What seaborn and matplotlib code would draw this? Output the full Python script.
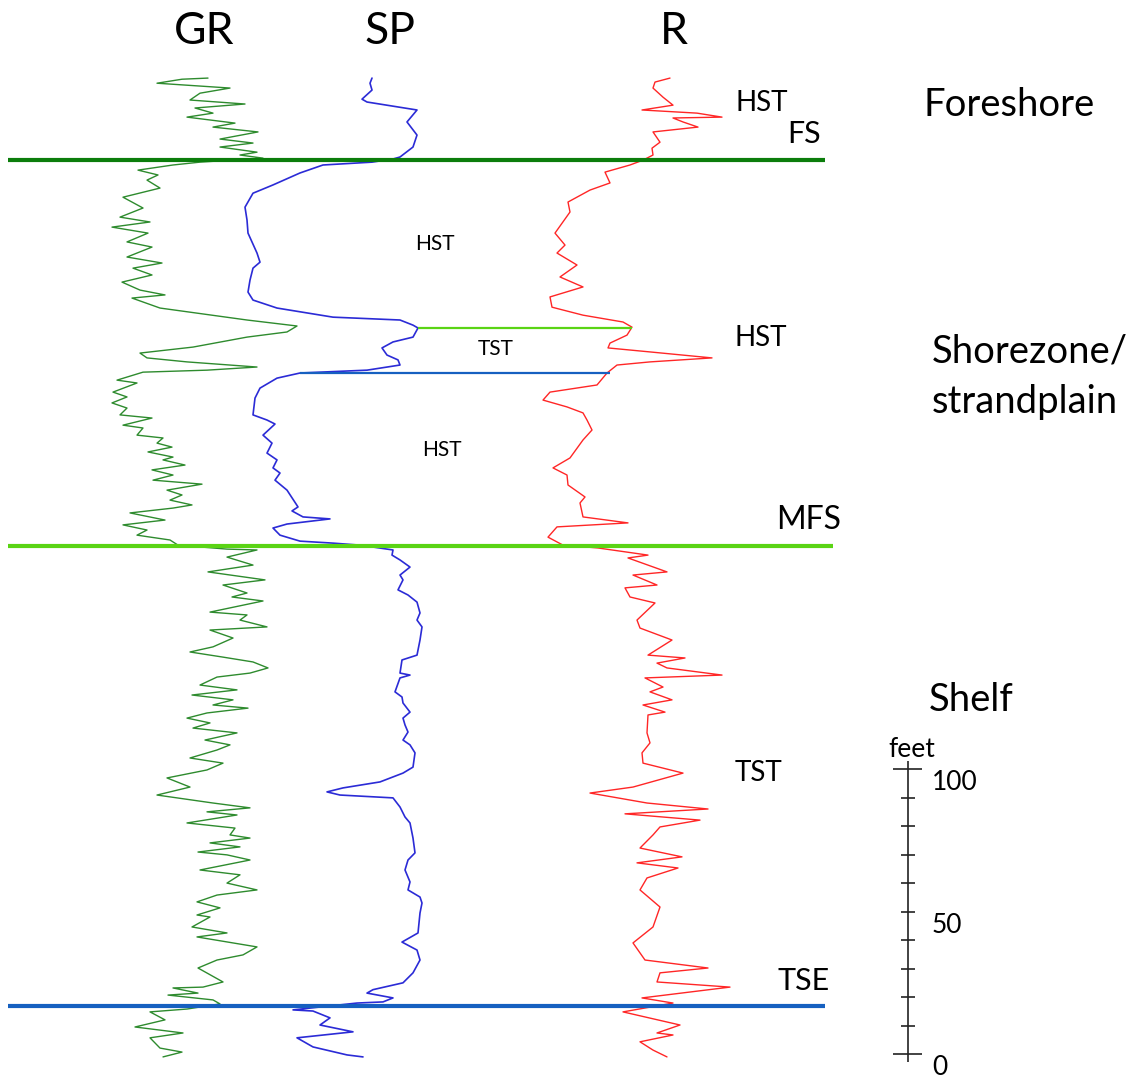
import matplotlib
matplotlib.use("Agg")
import matplotlib.pyplot as plt
import seaborn as sns

# ---------------------------------------------------------------------------
# Well-log readings (depth in feet below top of logged interval)
# ---------------------------------------------------------------------------
gr_depth = [0.0, 0.4, 1.8, 3.5, 5.3, 7.7, 9.1, 10.5, 12.3, 13.7, 15.8, 17.2, 18.9, 21.4,
            22.8, 24.2, 26.0, 27.0, 28.1, 29.5, 30.5, 32.3, 34.0, 35.8, 38.6, 41.8, 45.6,
            48.8, 50.5, 52.3, 54.4, 57.5, 59.3, 62.8, 64.9, 66.7, 69.1, 71.6, 74.4, 76.1,
            77.2, 80.7, 84.9, 87.0, 89.1, 90.9, 94.4, 96.5, 98.2, 99.6, 101.4, 102.5, 103.2,
            106.0, 107.0, 110.2, 111.9, 114.0, 115.8, 118.2, 119.3, 121.8, 122.8, 125.3,
            126.3, 128.1, 129.5, 131.2, 133.0, 134.0, 135.8, 137.5, 139.3, 141.1, 142.5,
            144.6, 146.3, 148.1, 149.8, 150.9, 152.6, 155.1, 156.8, 158.6, 160.4, 162.1,
            163.9, 165.3, 165.6, 168.1, 170.9, 173.3, 176.1, 177.9, 180.7, 182.1, 183.5,
            187.4, 188.4, 190.2, 192.6, 193.7, 196.5, 199.6, 201.4, 203.2, 204.9, 207.0,
            208.8, 210.2, 213.0, 214.7, 216.5, 218.2, 220.0, 221.1, 222.8, 224.6, 226.3,
            228.1, 229.8, 232.3, 234.0, 235.8, 238.6, 240.4, 242.8, 245.6, 248.8, 251.6,
            254.4, 256.1, 257.5, 258.6, 261.4, 263.2, 265.6, 266.7, 268.4, 269.8, 271.6,
            272.6, 274.4, 277.9, 279.6, 282.5, 284.9, 286.7, 289.1, 291.2, 293.7, 294.4,
            297.9, 300.0, 301.4, 304.9, 307.7, 309.5, 312.3, 317.2, 319.0, 319.3, 321.1,
            321.8, 323.5, 324.9, 326.7, 327.7, 330.5, 333.0, 335.1, 336.8, 340.4, 341.8,
            343.5]
gr_api = [108, 82, 57, 130, 100, 90, 145, 95, 113, 87, 135, 113, 158, 120,
          153, 120, 157, 140, 163, 100, 73, 38, 58, 47, 60, 23, 43,
          20, 50, 12, 48, 27, 52, 27, 62, 33, 52, 22, 40, 65,
          32, 60, 147, 197, 187, 147, 93, 40, 47, 87, 157, 107, 43,
          17, 37, 13, 27, 12, 27, 20, 52, 23, 43, 37,
          63, 57, 72, 48, 73, 63, 85, 52, 73, 53, 102,
          67, 82, 70, 92, 73, 30, 65, 23, 47, 37, 70,
          78, 127, 157, 127, 153, 108, 165, 123, 147, 132, 163,
          110, 147, 140, 167, 110, 133, 113, 90, 123, 153, 168,
          150, 117, 100, 137, 92, 133, 113, 148, 107, 87, 110,
          93, 137, 105, 130, 117, 90, 123, 107, 67, 90, 57,
          113, 150, 107, 137, 87, 135, 130, 150, 110, 140, 98,
          127, 150, 100, 140, 127, 157, 117, 97, 120, 97, 110,
          92, 127, 97, 157, 143, 117, 98, 123, 103, 73, 98,
          68, 113, 120, 87, 50, 65, 35, 83, 50, 60, 82,
          63]

sp_depth = [0.0, 1.8, 4.2, 7.4, 8.4, 11.2, 15.4, 20.0, 24.2, 27.7, 28.4,
            29.5, 30.5, 33.3, 37.5, 40.4, 45.3, 49.8, 54.4, 61.4, 64.6, 66.7, 70.9,
            75.1, 77.9, 80.7, 83.9, 84.9, 86.7, 87.7, 90.9, 92.6, 94.7, 97.2, 98.9,
            100.7, 102.5, 103.5, 105.3, 108.8, 112.3, 118.2, 120.0, 121.4, 125.3, 128.1,
            131.6, 134.0, 136.8, 138.6, 141.1, 144.6, 150.5, 151.9, 154.0, 154.7, 156.5,
            157.9, 160.4, 162.5, 163.2, 163.9,
            165.6, 167.4, 169.1, 171.6, 174.4, 176.1, 179.6, 181.4, 183.9, 187.7, 190.2,
            192.6, 197.2, 202.5, 204.2, 208.8, 209.5, 210.5, 215.4, 217.2, 219.3, 222.5,
            224.6, 227.0, 229.5, 232.3, 234.0, 236.8, 241.8, 243.9, 247.0, 249.1, 250.5,
            251.6, 252.6, 255.8, 259.3, 261.4, 266.7, 271.9, 274.4, 277.9, 282.1, 284.9,
            287.4, 289.5, 293.0, 300.0, 303.2, 306.0, 309.5, 314.0, 317.5, 319.9, 321.1,
            322.8, 324.2, 324.6,
            327.0, 327.4, 329.8, 332.3, 334.7, 336.8, 340.0, 342.8, 343.5]
sp_mv = [-48, -50, -48, -58, -53, -3, -13, -3, -7, -20, -27,
         -48, -97, -120, -147, -167, -175, -173, -172, -163, -160, -167, -170,
         -172, -167, -143, -87, -20, -7, -2, -7, -27, -38, -33, -22,
         -20, -53, -120, -143, -160, -165, -167, -153, -145, -157, -148,
         -153, -143, -147, -140, -145, -133, -122, -128, -117, -90, -133,
         -147, -140, -120, -87, -60,
         -27, -28, -20, -10, -20, -17, -22, -12, -3, 0, -3,
         2, 0, -3, -18, -20, -10, -20, -25, -18, -17, -10,
         -17, -15, -12, -17, -10, -5, -7, -17, -40, -77, -93,
         -80, -27, -20, -15, -10, -7, -5, -12, -15, -10, -12,
         0, 2, 0, -2, -18, -3, 0, -7, -17, -47, -53,
         -27, -37, -63,
         -127, -107, -90, -100, -67, -123, -107, -73, -57]

r_depth = [0.0, 1.4, 3.5, 6.7, 9.5, 11.2, 12.3, 13.7, 14.0, 15.4, 17.2, 18.9, 22.5,
           24.6, 27.0, 28.8, 30.5, 33.0, 36.8, 39.3, 43.5, 47.0, 54.4, 58.6, 61.4,
           65.6, 69.8, 73.3, 76.8, 80.4, 83.2, 85.6, 87.4, 90.2, 93.0, 94.7, 96.1,
           98.2, 99.6, 100.7, 103.5, 107.7, 110.2, 113.0, 115.4, 117.5, 120.0, 123.5,
           127.0, 133.3, 136.8, 139.3, 142.8, 147.0, 149.1, 154.0, 156.1, 157.5, 161.1,
           163.9, 164.9, 167.4, 168.4, 173.3, 174.4, 177.9, 178.9, 182.1, 184.2, 190.2,
           193.0, 197.2, 202.5, 203.5, 205.3, 207.0, 209.5, 210.5, 213.7, 215.4, 218.2,
           220.0, 222.5, 223.5, 229.8, 233.3, 236.8, 240.4, 243.9, 248.8, 250.9, 254.4,
           256.5, 258.2, 260.4, 262.8, 265.6, 270.2, 273.3, 275.4, 277.2, 280.7, 284.9,
           290.9, 297.9, 303.5, 309.5, 312.3, 314.0, 317.2, 319.0, 322.8, 324.6, 327.7,
           332.3, 335.1, 335.8, 338.2, 341.1, 343.5]
r_ohmm = [14.0, 12.5, 12.3, 13.3, 14.3, 11.2, 16.7, 19.2, 14.3, 15.3, 16.8, 12.3, 13.0,
          12.2, 12.3, 11.3, 10.0, 7.5, 8.0, 6.0, 3.8, 4.0, 2.5, 3.5, 2.7,
          4.7, 3.0, 5.3, 2.0, 2.2, 5.3, 9.3, 10.2, 9.7, 8.0, 7.8, 12.0,
          18.2, 12.0, 8.7, 7.7, 6.7, 2.0, 1.3, 3.7, 5.3, 5.7, 6.2,
          5.3, 4.0, 2.3, 3.7, 3.8, 5.5, 5.0, 5.3, 9.8, 2.7, 1.8,
          3.3, 6.8, 11.8, 9.8, 13.7, 10.3, 12.7, 9.5, 10.0, 12.5, 10.7,
          11.0, 14.2, 11.8, 15.5, 12.7, 13.7, 19.2, 11.5, 13.3, 12.0, 14.2,
          11.3, 13.5, 11.8, 11.7, 12.0, 11.2, 11.3, 15.3, 10.3, 6.0, 11.7,
          17.8, 9.5, 17.0, 13.0, 12.3, 11.0, 15.2, 10.7, 14.8, 11.7, 11.0,
          13.0, 12.3, 10.3, 11.5, 17.8, 13.0, 12.7, 20.0, 11.2, 14.3, 9.3,
          15.0, 12.7, 14.3, 11.0, 12.3, 13.7]

# Key stratigraphic surfaces (depth, ft)
surface_names = ["FS", "MFS", "TSE"]
surface_depths = [28.8, 164.2, 325.6]
# Internal parasequence boundaries within the shorezone
inner_depths = [87.7, 103.5]

track_titles = ["GR", "SP", "R"]
scale_ticks = [0, 10, 20, 30, 40, 50, 60, 70, 80, 90, 100]
scale_labels = {0: "0", 50: "50", 100: "100"}

# ---------------------------------------------------------------------------
sns.set_style("white")
plt.rcParams["font.family"] = ["Lato", "DejaVu Sans"]
plt.rcParams["text.color"] = "black"

W, H = 1133, 1078
fig = plt.figure(figsize=(W / 100, H / 100), dpi=100)
fig.patch.set_facecolor("white")

Y_TOP, Y_BOT = -27.4, 350.9


def track(left_px, right_px, xlim):
    ax = fig.add_axes([left_px / W, 0, (right_px - left_px) / W, 1])
    ax.set_xlim(*xlim)
    ax.set_ylim(Y_BOT, Y_TOP)
    ax.axis("off")
    ax.patch.set_alpha(0)
    return ax


ax_gr = track(100, 400, (0, 300))
ax_sp = track(220, 440, (-200, 20))
ax_r = track(530, 780, (0, 25))

sns.lineplot(x=gr_api, y=gr_depth, orient="y", sort=False, estimator=None,
             ax=ax_gr, color="#2e8b2e", linewidth=1.0)
sns.lineplot(x=sp_mv, y=sp_depth, orient="y", sort=False, estimator=None,
             ax=ax_sp, color="#2b2bd6", linewidth=1.2)
sns.lineplot(x=r_ohmm, y=r_depth, orient="y", sort=False, estimator=None,
             ax=ax_r, color="#ff2626", linewidth=1.0)

# Overlay in figure-fraction x / depth y for surfaces, labels and scale bar
ov = fig.add_axes([0, 0, 1, 1])
ov.set_xlim(0, 1)
ov.set_ylim(Y_BOT, Y_TOP)
ov.axis("off")
ov.patch.set_alpha(0)

surface_style = {
    "FS": dict(color="#0b7d0b", xmax=0.728),
    "MFS": dict(color="#5ad414", xmax=0.735),
    "TSE": dict(color="#1660c0", xmax=0.728),
}
for name, d in zip(surface_names, surface_depths):
    st = surface_style[name]
    ov.hlines(d, 0.007, st["xmax"], color=st["color"], linewidth=3.0, zorder=5)

ov.hlines(inner_depths[0], 0.369, 0.558, color="#5ad414", linewidth=1.6, zorder=5)
ov.hlines(inner_depths[1], 0.265, 0.538, color="#1660c0", linewidth=1.6, zorder=5)

# Track titles
for t, x in zip(track_titles, [0.180, 0.344, 0.595]):
    fig.text(x, 0.971, t, ha="center", va="center", fontsize=32)

# Depositional environments
fig.text(0.815, 0.903, "Foreshore", ha="left", va="center", fontsize=27.5)
fig.text(0.822, 0.664, "Shorezone/", ha="left", va="baseline", fontsize=27.5)
fig.text(0.822, 0.617, "strandplain", ha="left", va="baseline", fontsize=27.5)
fig.text(0.820, 0.3404, "Shelf", ha="left", va="baseline", fontsize=27.5)

# Surface and systems-tract labels
fig.text(0.649, 0.904, "HST", ha="left", va="center", fontsize=20)
fig.text(0.695, 0.876, "FS", ha="left", va="center", fontsize=22)
fig.text(0.648, 0.686, "HST", ha="left", va="center", fontsize=20)
fig.text(0.685, 0.518, "MFS", ha="left", va="center", fontsize=23)
fig.text(0.648, 0.283, "TST", ha="left", va="center", fontsize=20)
fig.text(0.686, 0.090, "TSE", ha="left", va="center", fontsize=22)
fig.text(0.366, 0.774, "HST", ha="left", va="center", fontsize=15)
fig.text(0.422, 0.676, "TST", ha="left", va="center", fontsize=15)
fig.text(0.373, 0.583, "HST", ha="left", va="center", fontsize=15)

# Vertical scale bar (feet)
bar_x = 0.8014
bar_base = 342.5
ov.vlines(bar_x, bar_base - 102.8, bar_base + 2.8, color="#222222", linewidth=1.2)
for tk in scale_ticks:
    half = 0.0128 if tk in (0, 100) else 0.0066
    ov.hlines(bar_base - tk, bar_x - half, bar_x + half, color="#222222", linewidth=1.2)
    if tk in scale_labels:
        ov.text(0.8226, bar_base - tk + 0.4, scale_labels[tk], ha="left", va="top",
                fontsize=19)
ov.text(bar_x + 0.003, 238.2, "feet", ha="center", va="baseline", fontsize=19)

fig.savefig("out.png", dpi=100, facecolor="white")
